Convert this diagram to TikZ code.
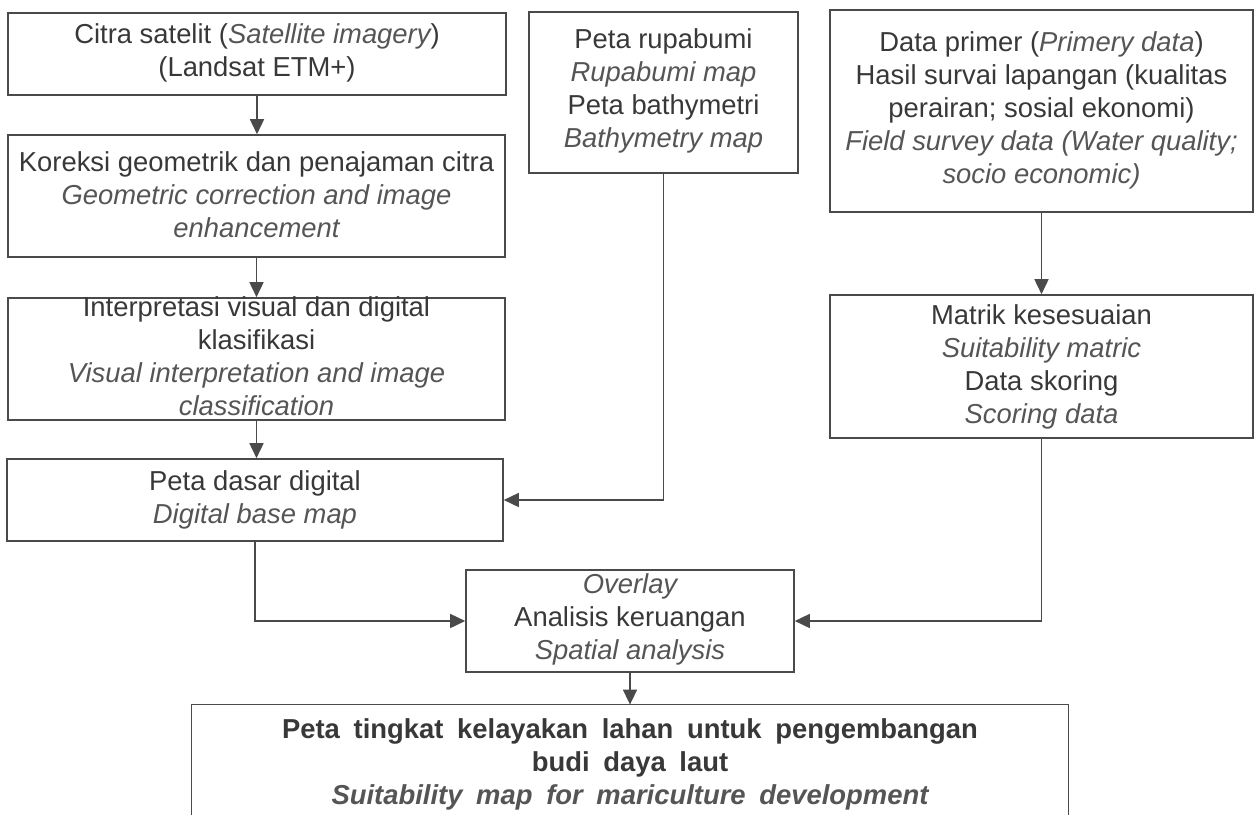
\documentclass[tikz,border=0pt]{standalone}
\usepackage{fontspec}
\setmainfont{Liberation Sans}
\usetikzlibrary{arrows.meta,positioning}
\definecolor{linec}{HTML}{4A4A4A}
\definecolor{textc}{HTML}{383838}
\definecolor{itc}{HTML}{555555}
\newcommand{\en}[1]{{\color{itc}\itshape #1}}
\newcommand{\wideskip}{\spaceskip=0.5em\relax}
\tikzset{
  box/.style={draw=linec, line width=0.8pt, rectangle, inner sep=0pt},
  txt/.style={align=center, font=\fontsize{13.7pt}{16.5pt}\selectfont, text=textc, inner sep=0pt},
  arr/.style={draw=linec, line width=0.8pt, -{Triangle[length=7.5pt,width=7pt]}},
  ln/.style={draw=linec, line width=0.8pt}
}
\begin{document}
\begin{tikzpicture}[x=0.5pt,y=-0.5pt]
\useasboundingbox (0,0) rectangle (1254,815);
% boxes
\node[box, minimum width=249pt, minimum height=41pt] (A) at (257,54) {};
\node[box, minimum width=248.5pt, minimum height=61pt] (B) at (256.5,196) {};
\node[box, minimum width=248.5pt, minimum height=61pt] (C) at (256.5,359) {};
\node[box, minimum width=248pt, minimum height=41pt] (D) at (255,500) {};
\node[box, minimum width=134.5pt, minimum height=80.5pt] (E) at (663.5,92.5) {};
\node[box, minimum width=211.5pt, minimum height=101pt] (F) at (1041.5,111) {};
\node[box, minimum width=211.5pt, minimum height=71.5pt] (G) at (1041.5,366.5) {};
\node[box, minimum width=164pt, minimum height=51pt] (H) at (630,621) {};
\node[rectangle, minimum width=438pt, minimum height=55pt, inner sep=0pt] (I) at (630,760) {};
\draw[ln] (I.south west) -- (I.north west) -- (I.north east) -- (I.south east);
% texts
\node[txt] (tA) at (257,53) {Citra satelit (\en{Satellite imagery})\\(Landsat ETM+)};
\node[txt] (tB) at (256.5,195) {Koreksi geometrik dan penajaman citra\\\en{Geometric correction and image}\\\en{enhancement}};
\node[txt] (tC) at (256.5,356) {Interpretasi visual dan digital\\klasifikasi\\\en{Visual interpretation and image}\\\en{classification}};
\node[txt] (tD) at (255,500) {Peta dasar digital\\\en{Digital base map}};
\node[txt] (tE) at (663.5,91) {Peta rupabumi\\\en{Rupabumi map}\\Peta bathymetri\\\en{Bathymetry map}};
\node[txt] (tF) at (1041.5,110) {Data primer (\en{Primery data})\\Hasil survai lapangan (kualitas\\perairan; sosial ekonomi)\\\en{Field survey data (Water quality;}\\\en{socio economic)}};
\node[txt] (tG) at (1041.5,367) {Matrik kesesuaian\\\en{Suitability matric}\\Data skoring\\\en{Scoring data}};
\node[txt] (tH) at (630,619) {\en{Overlay}\\Analisis keruangan\\\en{Spatial analysis}};
\node[txt, anchor=north, font=\fontsize{13.7pt}{16.5pt}\selectfont\bfseries\wideskip] (tI) at (630,718) {Peta tingkat kelayakan lahan untuk pengembangan\\budi daya laut\\\en{Suitability map for mariculture development}};
% connectors
\draw[arr] (A.south) -- (A.south |- B.north);
\draw[arr] (B.south) -- (B.south |- C.north);
\draw[arr] (C.south) -- (C.south |- D.north);
\draw[arr] (E.south) |- (D.east);
\draw[arr] (D.south) |- (H.west);
\draw[arr] (F.south) -- (F.south |- G.north);
\draw[arr] (G.south) |- (H.east);
\draw[arr] (H.south) -- (H.south |- I.north);
\end{tikzpicture}
\end{document}
